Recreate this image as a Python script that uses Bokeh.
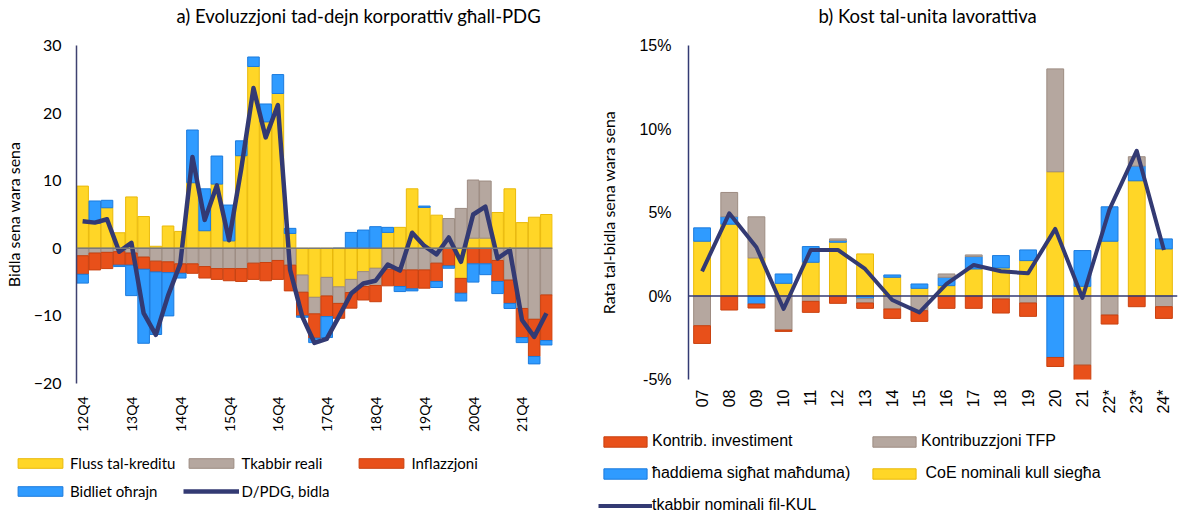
import numpy as np
from math import pi
from bokeh.plotting import figure
from bokeh.layouts import row, column
from bokeh.models import (Legend, LegendItem, FixedTicker, Range1d, FactorRange,
                          Span, PrintfTickFormatter)
from bokeh.embed import file_html
from bokeh.resources import INLINE

# ---------------- data: panel a ----------------
quarters = ["12Q4", "13Q1", "13Q2", "13Q3", "13Q4", "14Q1", "14Q2", "14Q3", "14Q4",
            "15Q1", "15Q2", "15Q3", "15Q4", "16Q1", "16Q2", "16Q3", "16Q4",
            "17Q1", "17Q2", "17Q3", "17Q4", "18Q1", "18Q2", "18Q3", "18Q4",
            "19Q1", "19Q2", "19Q3", "19Q4", "20Q1", "20Q2", "20Q3", "20Q4",
            "21Q1", "21Q2", "21Q3", "21Q4", "22Q1", "22Q2"]
credit_flow = [9.2, 3.7, 6.0, 2.3, 7.6, 4.7, 0.3, 3.3, 2.5, 9.7, 2.6, 9.5, 1.1, 13.7,
               26.9, 18.7, 22.9, 2.2, -3.95, -7.25, -4.3, -5.7, -4.6, -3.45, -2.95,
               2.35, 3.1, 8.8, 6.05, 4.9, 0.0, -4.45, 1.5, 1.5, 5.3, 8.8, 3.8, 4.6, 5.0]
real_growth = [-1.1, -0.7, -0.6, -0.5, -0.7, -1.3, -1.9, -2.0, -2.3, -2.3, -2.7, -3.0,
               -3.0, -3.0, -2.2, -2.1, -1.8, -2.5, -2.55, -2.45, -2.75, -2.45, -1.95,
               -2.2, -2.55, -3.1, -3.2, -3.2, -3.2, -2.2, 4.4, 5.9, 8.6, 8.45, -1.8,
               -4.7, -8.9, -10.5, -6.9]
inflation = [-2.75, -2.5, -2.4, -2.0, -1.8, -1.8, -1.6, -1.6, -1.4, -1.4, -1.7, -1.6,
             -1.8, -1.9, -2.4, -2.7, -2.8, -3.8, -3.5, -3.6, -3.05, -2.2, -2.3, -2.0,
             -2.4, -2.45, -2.45, -2.8, -2.7, -2.7, -2.6, -2.2, -2.3, -2.3, -3.1, -3.45,
             -4.3, -5.5, -6.75]
other_changes = [-1.3, 3.3, 1.1, -0.2, -4.5, -10.95, -9.25, -6.4, -0.7, 7.8, 6.2, 4.15,
                 5.3, 2.2, 1.4, 2.65, 2.8, 0.75, -0.2, -0.65, -3.1, 0.0, 2.35, 2.7, 3.2,
                 0.75, -0.75, -0.3, 0.2, -0.9, -0.35, -1.15, -2.7, -1.6, -1.8, -0.75,
                 -0.75, -1.1, -0.65]
debt_change = [4.0, 3.8, 4.3, -0.5, 0.8, -9.6, -12.8, -7.0, -2.3, 13.5, 4.2, 9.3, 1.2,
               11.8, 23.7, 16.4, 21.2, -3.2, -10.1, -14.0, -13.4, -10.1, -6.7, -5.2,
               -4.8, -2.4, -3.3, 2.3, 0.35, -0.9, 1.6, -2.0, 5.0, 6.15, -1.5, -0.25,
               -10.6, -13.1, -9.6]
a_ticks = ["12Q4", "13Q4", "14Q4", "15Q4", "16Q4", "17Q4", "18Q4", "19Q4", "20Q4", "21Q4"]
a_labels = ["Fluss tal-kreditu", "Tkabbir reali", "Inflazzjoni", "Bidliet oħrajn",
            "D/PDG, bidla"]

# ---------------- data: panel b ----------------
years = ["07", "08", "09", "10", "11", "12", "13", "14", "15", "16", "17", "18",
         "19", "20", "21", "22*", "23*", "24*"]
coe_per_hour = [3.28, 4.3, 2.28, 0.76, 2.02, 3.22, 2.52, 1.12, 0.46, 0.62, 1.62, 1.68,
                2.12, 7.44, 0.58, 3.28, 6.9, 2.82]
hours_worked = [0.8, 0.45, -0.48, 0.56, 0.94, 0.1, -0.16, 0.14, 0.26, 0.5, 0.74, 0.74,
                0.64, -3.68, 2.14, 2.06, 0.88, 0.6]
tfp_contrib = [-1.78, 1.45, 2.46, -2.04, -0.32, 0.1, -0.26, -0.78, -0.88, 0.2, 0.1,
               -0.18, -0.42, 6.16, -4.14, -1.14, 0.56, -0.64]
invest_contrib = [-1.06, -0.84, -0.24, -0.08, -0.66, -0.44, -0.32, -0.56, -0.64, -0.74,
                  -0.74, -0.84, -0.8, -0.54, -0.94, -0.54, -0.64, -0.7]
ulc_growth = [1.48, 4.95, 2.92, -0.78, 2.76, 2.76, 1.62, -0.24, -0.98, 0.72, 1.86, 1.48,
              1.36, 4.02, -0.12, 5.2, 8.7, 2.76]
b_labels = ["Kontrib. investiment", "Kontribuzzjoni TFP", "ħaddiema sigħat maħduma)",
            " CoE nominali kull siegħa", "tkabbir nominali fil-KUL"]

# ---------------- styles ----------------
YEL, YEL_L = "#FFD627", "#E9B90A"
GRY, GRY_L = "#B5A79F", "#9D8C82"
RED, RED_L = "#E8501A", "#C9410F"
BLU, BLU_L = "#2F9BFF", "#1C7BDD"
NAVY = "#333A73"
LEFT_FONT = "Lato"
RIGHT_FONT = "Liberation Sans"


def stack_parts(series):
    n = len(series[0])
    pos = np.zeros(n)
    neg = np.zeros(n)
    parts = []
    for s in series:
        s = np.asarray(s, dtype=float)
        base = np.where(s >= 0, pos, neg)
        top = base + s
        pos = np.where(s >= 0, top, pos)
        neg = np.where(s < 0, top, neg)
        parts.append((base, top))
    return parts


def style_common(p):
    p.xgrid.grid_line_color = None
    p.ygrid.grid_line_color = None
    p.outline_line_color = None
    p.background_fill_color = "white"
    p.border_fill_color = "white"
    for ax in (p.xaxis[0], p.yaxis[0]):
        ax.major_tick_line_color = None
        ax.minor_tick_line_color = None
        ax.major_tick_out = 0
        ax.major_tick_in = 0
        ax.minor_tick_out = 0
        ax.minor_tick_in = 0
        ax.major_label_text_color = "#000000"
        ax.axis_label_text_font_style = "normal"
        ax.axis_label_text_color = "#000000"


def blank_figure(width, height):
    # a bare canvas (no axes) that only carries a title or a legend
    f = figure(width=width, height=height, x_range=Range1d(0, 1), y_range=Range1d(0, 1),
               output_backend="svg", toolbar_location=None,
               x_axis_location=None, y_axis_location=None,
               min_border_left=0, min_border_right=0, min_border_top=0,
               min_border_bottom=0)
    f.xgrid.grid_line_color = None
    f.ygrid.grid_line_color = None
    f.outline_line_color = None
    return f


def title_figure(width, text, offset):
    f = blank_figure(width, 34)
    f.title.text = text
    f.title.align = "left"
    f.title.offset = offset
    f.title.text_font = LEFT_FONT
    f.title.text_font_size = "18.5px"
    f.title.text_font_style = "normal"
    f.title.text_color = "#000000"
    f.title.standoff = 4
    return f


def style_legend(leg, font, size):
    leg.padding = 0
    leg.margin = 0
    leg.border_line_color = None
    leg.background_fill_alpha = 0
    leg.label_text_font = font
    leg.label_text_font_size = size
    leg.label_text_color = "#000000"


OFF = [-9.0]  # swatch anchor outside the legend canvas ranges

# ================= panel a =================
t1 = title_figure(578, "a) Evoluzzjoni tad-dejn korporattiv għall-PDG", 176)

xq = np.arange(len(quarters))
p1 = figure(width=578, height=401, x_range=Range1d(-0.5, len(quarters) - 0.5),
            y_range=Range1d(-20, 30), output_backend="svg", toolbar_location=None,
            min_border_left=74, min_border_right=26, min_border_top=11,
            min_border_bottom=52)
style_common(p1)

a_parts = stack_parts([credit_flow, real_growth, inflation, other_changes])
a_cols = [(YEL, YEL_L), (GRY, GRY_L), (RED, RED_L), (BLU, BLU_L)]
for (b, t), (fc, lc) in zip(a_parts, a_cols):
    p1.vbar(x=xq, bottom=b, top=t, width=0.95, fill_color=fc, line_color=lc, line_width=1)
p1.add_layout(Span(location=0, dimension="width", line_color="#7A7A7A", line_width=1.5))
p1.line(xq, debt_change, line_color=NAVY, line_width=4.5, line_join="round")

p1.yaxis[0].ticker = FixedTicker(ticks=[-20, -10, 0, 10, 20, 30])
p1.yaxis[0].axis_line_color = "#3F4270"
p1.yaxis[0].axis_line_width = 1.5
p1.yaxis[0].major_label_text_font = LEFT_FONT
p1.yaxis[0].major_label_text_font_size = "16px"
p1.yaxis[0].major_label_standoff = 15
p1.yaxis[0].axis_label = "Bidla sena wara sena"
p1.yaxis[0].axis_label_text_font = LEFT_FONT
p1.yaxis[0].axis_label_text_font_size = "16px"
p1.yaxis[0].axis_label_standoff = 8

tick_pos = [quarters.index(q) for q in a_ticks]
p1.xaxis[0].ticker = FixedTicker(ticks=tick_pos)
p1.xaxis[0].major_label_overrides = {i: quarters[i] for i in tick_pos}
p1.xaxis[0].axis_line_color = None
p1.xaxis[0].major_label_orientation = pi / 2
p1.xaxis[0].major_label_text_font = LEFT_FONT
p1.xaxis[0].major_label_text_font_size = "14px"
p1.xaxis[0].major_label_standoff = 13

la_fig = blank_figure(578, 83)
sw_a = [la_fig.vbar(x=OFF, top=OFF, bottom=OFF, width=0.5, fill_color=fc, line_color=lc,
                    line_width=1) for fc, lc in a_cols]
sw_a.append(la_fig.line(x=OFF, y=OFF, line_color=NAVY, line_width=4.5))
leg_a = Legend(items=[LegendItem(label=lab, renderers=[r])
                      for lab, r in zip(a_labels, sw_a)],
               orientation="horizontal", ncols=3, location=(12, 17))
leg_a.glyph_width = 56
leg_a.glyph_height = 12
leg_a.label_height = 20
leg_a.label_width = 104
leg_a.label_standoff = 2
leg_a.spacing = 8
style_legend(leg_a, LEFT_FONT, "15px")
la_fig.add_layout(leg_a)

# ================= panel b =================
t2 = title_figure(600, "b) Kost tal-unita lavorattiva", 240)

p2 = figure(width=600, height=392, x_range=FactorRange(*years), y_range=Range1d(-5, 15),
            output_backend="svg", toolbar_location=None,
            min_border_left=110, min_border_right=1, min_border_top=11,
            min_border_bottom=47)
style_common(p2)
p2.x_range.range_padding = 0

b_parts = stack_parts([coe_per_hour, hours_worked, tfp_contrib, invest_contrib])
b_cols = [(YEL, YEL_L), (BLU, BLU_L), (GRY, GRY_L), (RED, RED_L)]
for (b, t), (fc, lc) in zip(b_parts, b_cols):
    p2.vbar(x=years, bottom=b, top=t, width=0.62, fill_color=fc, line_color=lc,
            line_width=1)
p2.add_layout(Span(location=0, dimension="width", line_color=NAVY, line_width=1.5))
p2.line(years, ulc_growth, line_color=NAVY, line_width=4, line_join="round")

p2.yaxis[0].ticker = FixedTicker(ticks=[-5, 0, 5, 10, 15])
p2.yaxis[0].formatter = PrintfTickFormatter(format="%d%%")
p2.yaxis[0].axis_line_color = NAVY
p2.yaxis[0].axis_line_width = 1.5
p2.yaxis[0].major_label_text_font = RIGHT_FONT
p2.yaxis[0].major_label_text_font_size = "16px"
p2.yaxis[0].major_label_standoff = 17
p2.yaxis[0].axis_label = "Rata tal-bidla sena wara sena"
p2.yaxis[0].axis_label_text_font = LEFT_FONT
p2.yaxis[0].axis_label_text_font_size = "16px"
p2.yaxis[0].axis_label_standoff = 18

p2.xaxis[0].axis_line_color = None
p2.xaxis[0].major_label_orientation = pi / 2
p2.xaxis[0].major_label_text_font = RIGHT_FONT
p2.xaxis[0].major_label_text_font_size = "16px"
p2.xaxis[0].major_label_standoff = 10

lb_fig = blank_figure(600, 92)
b_leg_cols = [(RED, RED_L), (GRY, GRY_L), (BLU, BLU_L), (YEL, YEL_L)]
sw_b = [lb_fig.vbar(x=OFF, top=OFF, bottom=OFF, width=0.5, fill_color=fc, line_color=lc,
                    line_width=1) for fc, lc in b_leg_cols]
sw_b.append(lb_fig.line(x=OFF, y=OFF, line_color=NAVY, line_width=4))
leg_b = Legend(items=[LegendItem(label=lab, renderers=[r])
                      for lab, r in zip(b_labels, sw_b)],
               orientation="horizontal", ncols=2, location=(20, 3))
leg_b.glyph_width = 54
leg_b.glyph_height = 13
leg_b.label_height = 20
leg_b.label_width = 203
leg_b.label_standoff = 0
leg_b.spacing = 12
style_legend(leg_b, RIGHT_FONT, "16px")
lb_fig.add_layout(leg_b)

left = column(row(t1), row(p1), row(la_fig))
right = column(row(t2), row(p2), row(lb_fig))
layout = row(left, right)
open("out.html", "w").write(file_html(layout, INLINE))
